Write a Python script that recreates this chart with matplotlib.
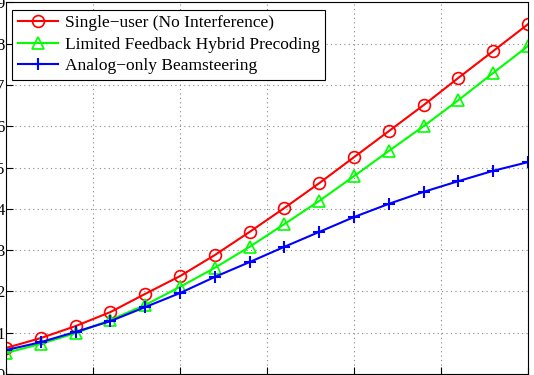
import matplotlib
matplotlib.use("Agg")
import matplotlib.pyplot as plt
import numpy as np

snr = list(range(-10, 21, 2))
single_user = [0.63, 0.87, 1.16, 1.50, 1.94, 2.37, 2.88, 3.44, 4.02, 4.62, 5.25, 5.88, 6.51, 7.17, 7.82, 8.47]
limited_fb = [0.51, 0.73, 0.99, 1.31, 1.67, 2.11, 2.57, 3.08, 3.63, 4.19, 4.79, 5.40, 6.00, 6.63, 7.29, 7.94]
analog_only = [0.58, 0.77, 1.02, 1.28, 1.62, 1.96, 2.35, 2.71, 3.08, 3.44, 3.80, 4.12, 4.41, 4.67, 4.92, 5.13]
labels = ["Single\u2212user (No Interference)", "Limited Feedback Hybrid Precoding", "Analog\u2212only Beamsteering"]

plt.rcParams['font.family'] = ['Liberation Serif', 'DejaVu Serif']

fig = plt.figure(figsize=(5.34, 3.75), dpi=100)
ax = fig.add_axes([6/534, 1/375, (528-6)/534, (374-2.3)/375])

ax.plot(snr, single_user, color='red', marker='o', mfc='none', ms=8.5, mew=1.2, lw=1.5, label=labels[0])
ax.plot(snr, limited_fb, color='#00ff00', marker='^', mfc='none', ms=8.5, mew=1.2, lw=1.5, label=labels[1])
ax.plot(snr, analog_only, color='blue', marker='+', ms=8.5, mew=1.5, lw=1.5, label=labels[2])

ax.set_xlim(-10, 20)
ax.set_ylim(0, 9)
ax.set_xticks(np.arange(-10, 21, 5))
ax.set_yticks(np.arange(0, 10, 1))
ax.grid(True, linestyle=(0, (1, 3)), color='#888888', linewidth=0.8)
ax.tick_params(direction='in', length=5, labelsize=12, pad=1)
ax.tick_params(axis='x', labelbottom=False)
for s in ax.spines.values():
    s.set_linewidth(0.8)

leg = ax.legend(loc='upper left', bbox_to_anchor=(0.012, 0.98), fontsize=12.5, frameon=True,
                fancybox=False, edgecolor='black', framealpha=1, handlelength=2.3,
                borderpad=0.32, labelspacing=0.3, handletextpad=0.4, borderaxespad=0)
leg.get_frame().set_linewidth(0.8)

fig.savefig("out.png", dpi=100)
